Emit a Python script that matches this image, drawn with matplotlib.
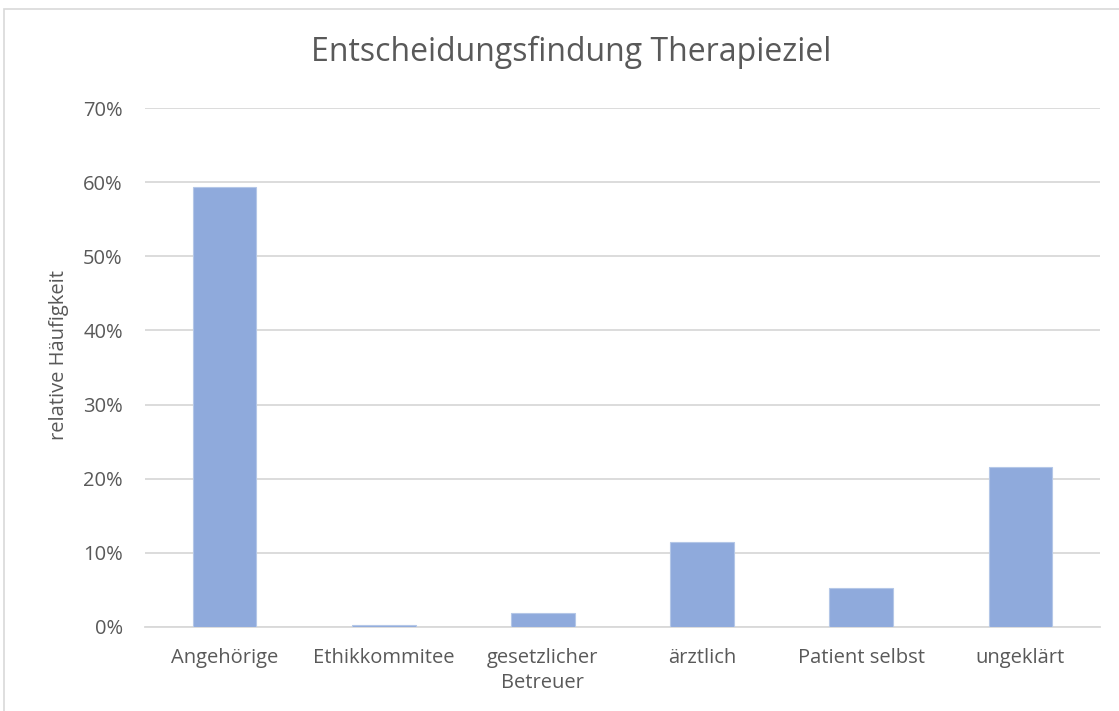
import matplotlib.pyplot as plt
from matplotlib.patches import Rectangle
from matplotlib.ticker import PercentFormatter

# Daten
kategorien = ['Angehörige', 'Ethikkommitee', 'gesetzlicher\nBetreuer', 'ärztlich', 'Patient selbst', 'ungeklärt']
anteile = [0.594, 0.003, 0.019, 0.115, 0.052, 0.216]
yticks = [0.0, 0.1, 0.2, 0.3, 0.4, 0.5, 0.6, 0.7]

text_color = '#595959'
grid_color = '#d9d9d9'
bar_color = '#8faadc'

plt.rcParams['font.family'] = ['Open Sans', 'DejaVu Sans']

fig = plt.figure(figsize=(11.19, 7.11), dpi=100)
ax = fig.add_axes([145 / 1119, 1 - 627 / 711, 955 / 1119, 519 / 711])

# Rahmen des Diagrammbereichs
fig.patches.append(Rectangle((4 / 1119, -0.01), 1.2, 1 - 9 / 711 + 0.01,
                             transform=fig.transFigure, fill=False,
                             edgecolor='#d9d9d9', linewidth=1.2))

x = range(len(kategorien))
ax.bar(x, anteile, width=0.4, color=bar_color, edgecolor='#b4c7e7', linewidth=0.8, zorder=3)

ax.set_xlim(-0.5, len(kategorien) - 0.5)
ax.set_ylim(0, 0.7)
ax.set_yticks(yticks)
ax.yaxis.set_major_formatter(PercentFormatter(1.0, decimals=0))
ax.set_xticks(list(x))
ax.set_xticklabels(kategorien, linespacing=1.35)

ax.grid(axis='y', color=grid_color, linewidth=1.3, zorder=0)
for s in ['top', 'right', 'left']:
    ax.spines[s].set_visible(False)
ax.spines['bottom'].set_color(grid_color)
ax.spines['bottom'].set_linewidth(1.3)
ax.tick_params(axis='both', length=0, labelsize=14.5, colors=text_color)
ax.tick_params(axis='x', pad=15)
ax.tick_params(axis='y', pad=16)

ax.set_ylabel('relative Häufigkeit', fontsize=14.5, color=text_color)
ax.yaxis.set_label_coords(-0.08, 0.525)

fig.text(0.51, 1 - 52 / 711, 'Entscheidungsfindung Therapieziel', fontsize=23,
         color=text_color, ha='center', va='center')

fig.savefig('out.png', dpi=100)
